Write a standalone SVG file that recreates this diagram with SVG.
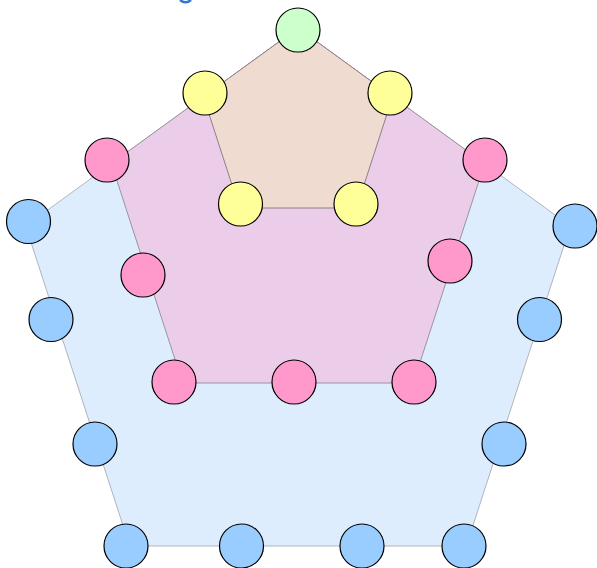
<svg xmlns="http://www.w3.org/2000/svg" width="597" height="568" viewBox="0 0 597 568">
<style>
.n{stroke:#000;stroke-width:1.2}
.b{fill:#99ccff}
.p{fill:#ff99cc}
.y{fill:#ffff99}
.g{fill:#ccffcc}
</style>
<rect width="597" height="568" fill="#fff"/>
<path d="M180,0 Q185.5,4.5 191,0" fill="none" stroke="#2f78d0" stroke-width="2.6"/>
<g id="regions">
<polygon id="outer" points="298,28 570.3,226 466.3,546 129.7,546 25.7,226" fill="#deedfd" stroke="#b0b4bc" stroke-width="1"/>
<polygon id="middle" points="298,28 484.6,163.6 413.3,383 182.7,383 111.4,163.6" fill="#ebcdea" stroke="#9a949c" stroke-width="1"/>
<polygon id="inner" points="298,28 392.6,96.7 356.5,208 239.5,208 203.4,96.7" fill="#efdbd0" stroke="#8e8086" stroke-width="1"/>
</g>
<g id="connectors"></g>
<g id="n0"><circle class="n g" cx="298" cy="30" r="22"/></g>
<g id="y1"><circle class="n y" cx="205" cy="93" r="22"/></g>
<g id="y2"><circle class="n y" cx="390" cy="93" r="22"/></g>
<g id="y3"><circle class="n y" cx="240.5" cy="204" r="22"/></g>
<g id="y4"><circle class="n y" cx="356" cy="204" r="22"/></g>
<g id="p1"><circle class="n p" cx="107" cy="160" r="22"/></g>
<g id="p2"><circle class="n p" cx="485" cy="160" r="22"/></g>
<g id="p3"><circle class="n p" cx="143" cy="275" r="22"/></g>
<g id="p4"><circle class="n p" cx="450" cy="261" r="22"/></g>
<g id="p5"><circle class="n p" cx="174" cy="382" r="22"/></g>
<g id="p6"><circle class="n p" cx="294" cy="382" r="22"/></g>
<g id="p7"><circle class="n p" cx="414" cy="382" r="22"/></g>
<g id="b1"><circle class="n b" cx="28.5" cy="221.5" r="22"/></g>
<g id="b2"><circle class="n b" cx="575" cy="226" r="22"/></g>
<g id="b3"><circle class="n b" cx="51" cy="319.5" r="22"/></g>
<g id="b4"><circle class="n b" cx="539.5" cy="319.5" r="22"/></g>
<g id="b5"><circle class="n b" cx="95" cy="444" r="22"/></g>
<g id="b6"><circle class="n b" cx="504" cy="444" r="22"/></g>
<g id="b7"><circle class="n b" cx="126" cy="546" r="22"/></g>
<g id="b8"><circle class="n b" cx="241.5" cy="546" r="22"/></g>
<g id="b9"><circle class="n b" cx="362" cy="546" r="22"/></g>
<g id="b10"><circle class="n b" cx="464" cy="546" r="22"/></g>
</svg>
